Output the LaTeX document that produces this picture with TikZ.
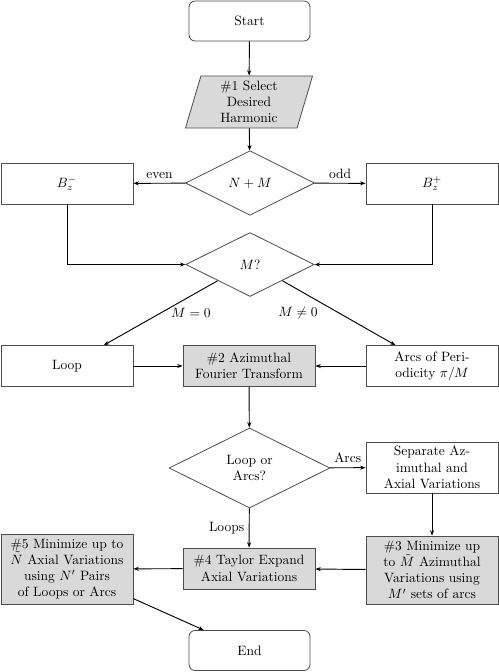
\documentclass[tikz,border=0pt]{standalone}
\usepackage{amsmath,amssymb}
\usetikzlibrary{shapes.geometric,arrows.meta,positioning,calc}

\begin{document}
\begin{tikzpicture}[
    x=0.74pt, y=-0.74pt,
    terminal/.style={rectangle, rounded corners=4.5pt, draw=black!70, semithick, minimum width=89.5pt, minimum height=29.6pt},
    procbox/.style={rectangle, draw=black!70, semithick, minimum width=97.7pt, minimum height=30.3pt, align=center, inner sep=2pt},
    keybox/.style={procbox, fill=gray!30},
    decision/.style={diamond, draw=black!70, semithick, aspect=2, align=center, inner sep=1pt},
    inputbox/.style={trapezium, trapezium left angle=71, trapezium right angle=109, trapezium stretches body, draw=black!70, semithick, fill=gray!30, minimum width=94pt, minimum height=38.5pt, align=center, inner sep=1pt},
    flow/.style={line width=0.7pt, -{Stealth[length=4pt,width=3pt]}},
    >=Stealth
]
    \useasboundingbox (0,0) rectangle (499,672);

    % Start and harmonic selection
    \node[terminal] (start) at (249.5,21) {Start};
    \node[inputbox] (select) at (249,102) {\#1 Select\\Desired\\Harmonic};
    \node[decision, minimum width=95.5pt, minimum height=47.8pt] (parity) at (250,183) {$N+M$};
    \node[procbox] (bminus) at (67,183.5) {$B_z^-$};
    \node[procbox] (bplus) at (432,183.5) {$B_z^+$};
    \node[decision, minimum width=95pt, minimum height=47.3pt] (mq) at (250,264.5) {$M?$};

    % Azimuthal transform
    \node[procbox] (loop) at (67,366) {Loop};
    \node[keybox] (azim) at (249,366) {\#2 Azimuthal\\Fourier Transform};
    \node[procbox] (arcs) at (432,366) {Arcs of Peri-\\odicity $\pi/M$};

    % Loop or arcs branch
    \node[decision, minimum width=119pt, minimum height=59.2pt] (choice) at (249.5,468) {Loop or\\Arcs?};
    \node[procbox, minimum height=37.7pt] (separate) at (432,467.5) {Separate Az-\\imuthal and\\Axial Variations};
    \node[keybox, minimum height=50.3pt] (minaz) at (432,570) {\#3 Minimize up\\to $\tilde{M}$ Azimuthal\\Variations using\\$M'$ sets of arcs};
    \node[keybox] (taylor) at (249,568.5) {\#4 Taylor Expand\\Axial Variations};
    \node[keybox, minimum height=51.8pt] (minax) at (67,569) {\#5 Minimize up to\\$\tilde{N}$ Axial Variations\\using $N'$ Pairs\\of Loops or Arcs};
    \node[terminal] (end) at (249.5,650.5) {End};

    % Connectors
    \draw[flow] (start) -- (select);
    \draw[flow] (select) -- (parity);
    \draw[flow] (parity) -- node[midway, above] {even} (bminus);
    \draw[flow] (parity) -- node[midway, above] {odd} (bplus);
    \draw[flow] (bminus) |- (mq);
    \draw[flow] (bplus) |- (mq);
    \draw[flow] (mq.south west) -- node[midway, right, xshift=4pt] {$M=0$} (loop);
    \draw[flow] (mq.south east) -- node[midway, left, xshift=-12pt] {$M\neq0$} (arcs);
    \draw[flow] (loop) -- (azim);
    \draw[flow] (arcs) -- (azim);
    \draw[flow] (azim) -- (choice);
    \draw[flow] (choice) -- node[midway, above] {Arcs} (separate);
    \draw[flow] (choice) -- node[midway, left] {Loops} (taylor);
    \draw[flow] (separate) -- (minaz);
    \draw[flow] (minaz) -- (taylor);
    \draw[flow] (taylor) -- (minax);
    \draw[flow] (minax) -- (end);
\end{tikzpicture}
\end{document}
